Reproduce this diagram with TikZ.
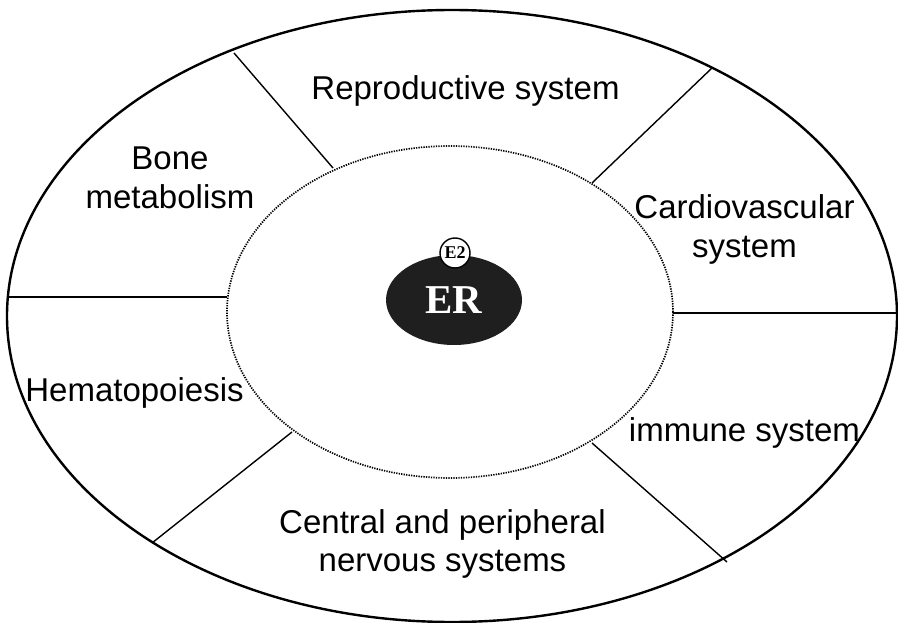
\documentclass[tikz,border=0pt]{standalone}
\usepackage{fontspec}
\setmainfont{Liberation Sans}
\newfontfamily\erfont{Liberation Serif}
\usetikzlibrary{shapes.geometric}
\begin{document}
\begin{tikzpicture}[x=1pt,y=-1pt,
  lab/.style={font=\fontsize{33}{38.6}\selectfont, align=center, inner sep=0pt, anchor=base},
  divider/.style={line width=1.4pt, black},
  outerring/.style={line width=2.4pt, black},
  innerring/.style={line width=1.7pt, dash pattern=on 1.3pt off 1.2pt, black}]
\useasboundingbox (0,0) rectangle (898,623);
% rings
\draw[outerring] (452,316) ellipse [x radius=445pt, y radius=306pt];
\draw[innerring] (450,312) ellipse [x radius=223pt, y radius=166pt];
% divider end points
\coordinate (tlo) at (234,53);  \coordinate (tli) at (333,168);
\coordinate (tro) at (712,68);  \coordinate (tri) at (592,183);
\coordinate (lo)  at (9,297);   \coordinate (li)  at (227,297);
\coordinate (ro)  at (897,313); \coordinate (ri)  at (673,313);
\coordinate (blo) at (152,543); \coordinate (bli) at (292,432);
\coordinate (bro) at (727,562); \coordinate (bri) at (592,443);
\draw[divider] (tlo) -- (tli);
\draw[divider] (tro) -- (tri);
\draw[divider] (lo) -- (li);
\draw[divider] (ro) -- (ri);
\draw[divider] (blo) -- (bli);
\draw[divider] (bro) -- (bri);
% centre
\node[ellipse, fill=black!88, minimum width=136pt, minimum height=90pt, inner sep=0pt,
      text=white, font=\erfont\bfseries\fontsize{41}{41}\selectfont] (er) at (454,300) {\raisebox{-2pt}{ER}};
\node[circle, draw, line width=1.4pt, fill=white, minimum size=30pt, inner sep=0pt,
      font=\erfont\bfseries\fontsize{18}{18}\selectfont] (e2) at (455,253) {E2};
% labels (anchor = baseline of the last line)
\node[lab] (repro) at (465.5,100) {Reproductive system};
\node[lab] (bone) at (170,208.6) {Bone\\metabolism};
\node[lab] (cardio) at (744.5,257.6) {Cardiovascular\\system};
\node[lab] (hema) at (134.5,401) {Hematopoiesis};
\node[lab] (immune) at (744.5,441) {immune system};
\node[lab] (cns) at (442.5,571.6) {Central and peripheral\\nervous systems};
\end{tikzpicture}
\end{document}
